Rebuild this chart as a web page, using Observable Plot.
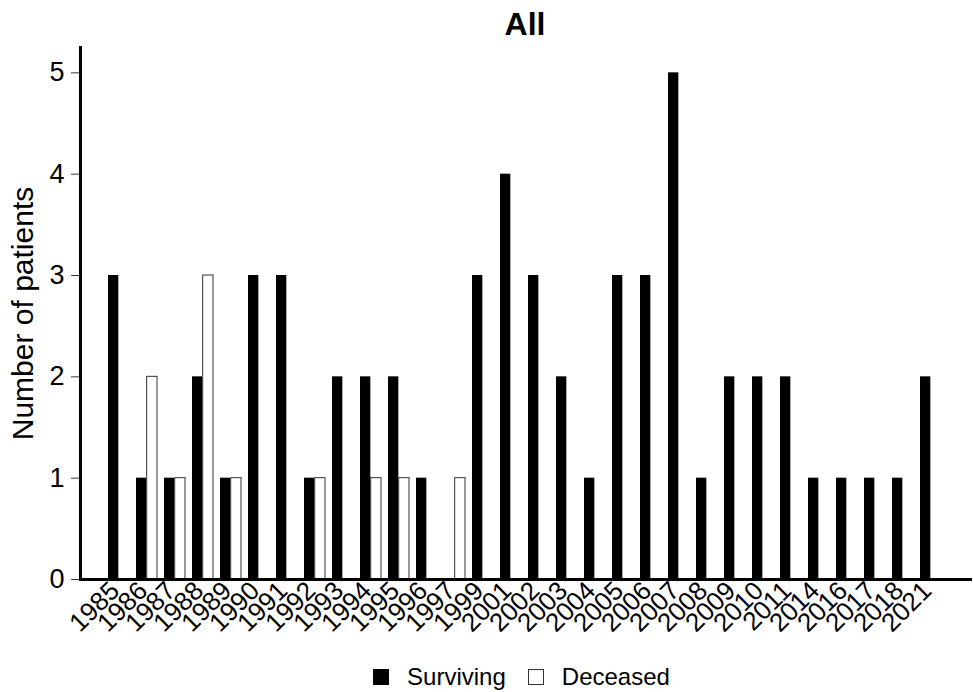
<!DOCTYPE html>
<html>
<head>
<meta charset="utf-8">
<script src="https://cdn.jsdelivr.net/npm/d3@7"></script>
<script src="https://cdn.jsdelivr.net/npm/@observablehq/plot@0.6"></script>
<style>
  html, body { margin: 0; padding: 0; background: #fff; }
  #wrap { position: relative; width: 973px; height: 692px; font-family: "Liberation Sans", Arial, sans-serif; }
  #title { position: absolute; left: 80px; width: 890px; top: 4px; text-align: center; font-weight: bold; font-size: 32px; line-height: 40px; color: #000; }
  #chart { position: absolute; left: 0; top: 40px; }
  #legend { position: absolute; left: 0; width: 973px; top: 664px; height: 26px; display: flex; justify-content: center; align-items: center; font-size: 24px; color: #000; padding-left: 70px; box-sizing: border-box; }
  .sw { width: 16px; height: 16px; box-sizing: border-box; display: inline-block; margin-right: 18px; }
  .item { display: flex; align-items: center; margin: 0 11px; }
</style>
</head>
<body>
<div id="wrap">
  <div id="title">All</div>
  <div id="chart"></div>
  <div id="legend"></div>
</div>
<script>
const years = ["1985","1986","1987","1988","1989","1990","1991","1992","1993","1994","1995","1996","1997","1999","2001","2002","2003","2004","2005","2006","2007","2008","2009","2010","2011","2014","2016","2017","2018","2021"];
const surviving = [3,1,1,2,1,3,3,1,2,2,2,1,0,3,4,3,2,1,3,3,5,1,2,2,2,1,1,1,1,2];
const deceased  = [0,2,1,3,1,0,0,1,0,1,1,0,1,0,0,0,0,0,0,0,0,0,0,0,0,0,0,0,0,0];
const seriesNames = ["Surviving", "Deceased"];
const seriesFill = ["#000000", "#ffffff"];
const seriesStroke = ["none", "#333333"];
const yTicks = [0,1,2,3,4,5];

const rows = [];
years.forEach((y, i) => {
  rows.push({year: y, status: seriesNames[0], n: surviving[i]});
  rows.push({year: y, status: seriesNames[1], n: deceased[i]});
});
const survRows = rows.filter(d => d.status === seriesNames[0] && d.n > 0);
const decRows = rows.filter(d => d.status === seriesNames[1] && d.n > 0);

const width = 973, marginLeft = 80, marginRight = 3;
const paddingInner = 0.24, paddingOuter = 0.955;
const step = (width - marginLeft - marginRight) / (years.length - paddingInner + 2 * paddingOuter);
const bw = step * (1 - paddingInner);
const half = bw / 2;

const chart = Plot.plot({
  width,
  height: 610,
  marginLeft,
  marginRight,
  marginTop: 7,
  marginBottom: 71,
  style: {fontFamily: "'Liberation Sans', Arial, sans-serif", background: "#fff", color: "#000"},
  x: {domain: years, paddingInner, paddingOuter, label: null},
  y: {domain: [0, 5.25], label: null},
  marks: [
    Plot.barY(survRows, {x: "year", y: "n", fill: seriesFill[0], insetRight: half}),
    Plot.barY(decRows, {x: "year", y: "n", fill: seriesFill[1], stroke: seriesStroke[1], strokeWidth: 1, insetLeft: half}),
    Plot.axisX({tickSize: 0, tickRotate: -45, tickPadding: 7, dx: -4, fontSize: 26, label: null}),
    Plot.axisY({ticks: yTicks, tickFormat: "d", tickSize: 9, tickPadding: 7, fontSize: 27, stroke: "#333", label: null}),
    Plot.axisY({ticks: yTicks, tickFormat: () => "", tickSize: 0, fontSize: 30, label: "Number of patients", labelAnchor: "center", labelArrow: "none", labelOffset: 69}),
    Plot.frame({anchor: "left", strokeWidth: 3, stroke: "#000"}),
    Plot.frame({anchor: "bottom", strokeWidth: 3, stroke: "#000"})
  ]
});
document.getElementById("chart").appendChild(chart);

const legend = document.getElementById("legend");
seriesNames.forEach((name, i) => {
  const item = document.createElement("div");
  item.className = "item";
  const sw = document.createElement("span");
  sw.className = "sw";
  sw.style.background = seriesFill[i];
  sw.style.border = "1px solid " + (i === 0 ? "#000" : "#333");
  const t = document.createElement("span");
  t.textContent = name;
  item.appendChild(sw); item.appendChild(t);
  legend.appendChild(item);
});
</script>
</body>
</html>
